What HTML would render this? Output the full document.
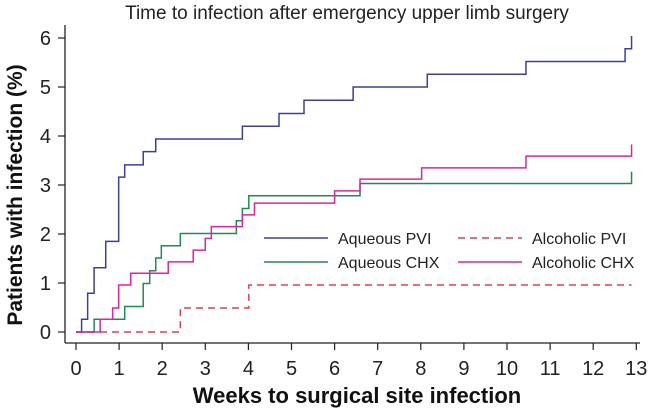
<!DOCTYPE html>
<html><head><meta charset="utf-8"><style>
html,body{margin:0;padding:0;background:#fff;}
svg{display:block;font-family:"Liberation Sans",Arial,sans-serif;}
</style></head><body>
<svg id="chart" width="649" height="410" viewBox="0 0 649 410">
<text x="347" y="19" text-anchor="middle" font-size="19" fill="#222">Time to infection after emergency upper limb surgery</text>
<g id="axes"></g>
<g id="series"></g>
<g id="legend"></g>
<text x="357" y="403" text-anchor="middle" font-size="22" font-weight="bold" fill="#111">Weeks to surgical site infection</text>
<text transform="translate(22,195) rotate(-90)" text-anchor="middle" font-size="21" font-weight="bold" fill="#111">Patients with infection (%)</text>
</svg>
<script>
const xTicks = [0,1,2,3,4,5,6,7,8,9,10,11,12,13];
const yTicks = [0,1,2,3,4,5,6];
const seriesNames = ["Aqueous PVI","Aqueous CHX","Alcoholic PVI","Alcoholic CHX"];
const aqPviT = [0,0.13,0.27,0.42,0.69,0.99,1.13,1.56,1.85,3.86,4.71,5.29,6.43,8.15,10.44,12.74,12.89];
const aqPviV = [0,0.26,0.79,1.31,1.85,3.16,3.41,3.68,3.94,4.2,4.46,4.73,5.0,5.26,5.52,5.78,6.04];
const aqChxT = [0,0.42,1.13,1.56,1.71,1.85,1.98,2.42,3.72,3.86,4.01,6.59,12.89];
const aqChxV = [0,0.26,0.52,0.99,1.25,1.51,1.76,2.01,2.27,2.52,2.78,3.03,3.27];
const alPviT = [0,2.42,4.01,12.89];
const alPviV = [0,0.49,0.96,0.96];
const alChxT = [0,0.56,0.85,0.99,1.27,2.14,2.72,3.0,3.14,3.86,4.14,6.0,6.59,8.02,10.44,12.89];
const alChxV = [0,0.26,0.49,0.96,1.2,1.43,1.67,1.91,2.15,2.39,2.63,2.88,3.12,3.35,3.59,3.83];

const NS="http://www.w3.org/2000/svg";
const X0=76, XS=43.1, Y0=332, YS=49;
function sx(v){return X0+v*XS;}
function sy(v){return Y0-v*YS;}
function mk(tag,attrs,parent){const e=document.createElementNS(NS,tag);for(const k in attrs)e.setAttribute(k,attrs[k]);parent.appendChild(e);return e;}
const axes=document.getElementById('axes');
let yl=mk('line',{x1:65,y1:25,x2:65,y2:343,stroke:'#222','stroke-width':1.3},axes);


let xl=mk('line',{x1:65,y1:343,x2:640,y2:343,stroke:'#222','stroke-width':1.3},axes);


xTicks.forEach(t=>{
  const tk=mk('line',{x1:sx(t),y1:343,x2:sx(t),y2:350,stroke:'#222','stroke-width':1.2},axes);
  
  
  const tx=mk('text',{x:sx(t),y:375,'text-anchor':'middle','font-size':20,fill:'#222'},axes);
  tx.textContent=t;
  
  
});
yTicks.forEach(t=>{
  const tk=mk('line',{x1:58,y1:sy(t),x2:65,y2:sy(t),stroke:'#222','stroke-width':1.2},axes);
  
  
  const tx=mk('text',{x:51,y:sy(t)+7,'text-anchor':'end','font-size':20,fill:'#222'},axes);
  tx.textContent=t;
  
  
});
function stepPath(T,V){
  let d='M'+sx(T[0])+','+sy(V[0]);
  for(let i=1;i<T.length;i++){d+=' H'+sx(T[i])+' V'+sy(V[i]);}
  return d;
}
const ser=document.getElementById('series');
const defs=[
 [aqPviT,aqPviV,'#3f3f9a',null,'series-aqueous-pvi'],
 [aqChxT,aqChxV,'#1f8a55',null,'series-aqueous-chx'],
 [alPviT,alPviV,'#d6454f','7,5','series-alcoholic-pvi'],
 [alChxT,alChxV,'#e0259a',null,'series-alcoholic-chx']
];
defs.forEach(s=>{
  const p=mk('path',{d:stepPath(s[0],s[1]),fill:'none',stroke:s[2],'stroke-width':1.5},ser);
  if(s[3])p.setAttribute('stroke-dasharray',s[3]);
  
  
});
const leg=document.getElementById('legend');
const legPos=[[264,238],[264,262],[458,238],[458,262]];
const legIdx=[0,1,2,3];
legIdx.forEach(i=>{
  const [lx,ly]=legPos[i];
  const g=mk('g',{},leg);
  
  
  const l=mk('line',{x1:lx,y1:ly,x2:lx+64,y2:ly,stroke:defs[i][2],'stroke-width':1.5},g);
  if(defs[i][3])l.setAttribute('stroke-dasharray',defs[i][3]);
  const t=mk('text',{x:lx+74,y:ly+6,'font-size':16,fill:'#222'},g);
  t.textContent=seriesNames[i];
});
</script>
</body></html>
